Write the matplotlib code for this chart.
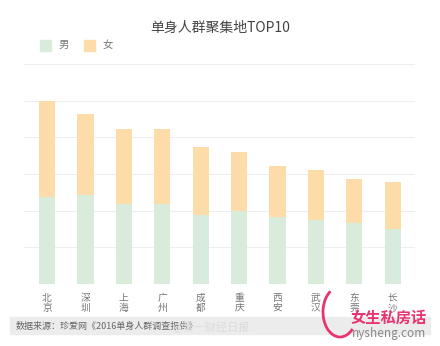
import matplotlib.pyplot as plt
import numpy as np
from matplotlib.patches import Rectangle, Arc

plt.rcParams['font.family'] = ['Noto Sans CJK SC', 'DejaVu Sans']

# top 10 cities by singles, split male / female
cities = ["北京", "深圳", "上海", "广州", "成都", "重庆", "西安", "武汉", "东莞", "长沙"]
male = [11.8, 12.1, 10.9, 10.95, 9.4, 9.9, 9.1, 8.7, 8.3, 7.5]
female = [13.2, 11.1, 10.3, 10.25, 9.3, 8.1, 7.0, 6.8, 6.0, 6.45]

male_color = "#d9ecdb"
female_color = "#fddcaa"

fig = plt.figure(figsize=(4.4, 3.46), dpi=100)
ax = fig.add_axes([24/440, 1-284/346, 391/440, 220/346])

x = np.arange(len(cities))
ax.bar(x, male, width=0.42, color=male_color, zorder=2)
ax.bar(x, female, width=0.42, bottom=male, color=female_color, zorder=2)

ax.set_ylim(0, 30)
ax.set_xlim(-0.6, 9.58)
ax.set_yticks(np.arange(0, 31, 5))
ax.yaxis.grid(True, color="#eeeeee", linewidth=0.8, zorder=0)
ax.tick_params(left=False, bottom=False, labelleft=False)
for s in ax.spines.values():
    s.set_visible(False)
ax.set_xticks(x)
ax.set_xticklabels(["\n".join(c) for c in cities], fontsize=7, color="#777777",
                   linespacing=0.95)
ax.tick_params(axis="x", pad=3)

# title and legend
fig.text(0.5, 1-28/346, "单身人群聚集地TOP10", ha="center", va="center",
         fontsize=10, color="#444444")
fig.patches.append(Rectangle((40/440, 1-51/346), 11/440, 11/346,
                             transform=fig.transFigure, color=male_color))
fig.text(59/440, 1-45/346, "男", fontsize=7.5, color="#777777", va="center")
fig.patches.append(Rectangle((84/440, 1-51/346), 11/440, 11/346,
                             transform=fig.transFigure, color=female_color))
fig.text(103/440, 1-45/346, "女", fontsize=7.5, color="#777777", va="center")

# source strip at the bottom
fig.patches.append(Rectangle((10/440, 1-334/346), 420/440, 17/346,
                             transform=fig.transFigure, color="#ececec", zorder=0))
fig.text(16/440, 1-326/346, "数据来源：珍爱网《2016单身人群调查报告》", fontsize=6.5,
         color="#666666", style="italic", va="center")
fig.text(172/440, 1-327/346, "@第一财经日报", fontsize=8, color="#dcdcdc", va="center")

# site logo
fig.patches.append(Arc((340/440, 1-312/346), 34/440, 50/346, theta1=110, theta2=300,
                       transform=fig.transFigure, color="#e8336e", linewidth=2))
fig.text(350/440, 1-318/346, "女生私房话", fontsize=11, color="#e8336e",
         fontweight="bold", va="center")
fig.text(352/440, 1-334/346, "nysheng.com", fontsize=8.5, color="#888888", va="center")

fig.savefig("out.png", dpi=100)
